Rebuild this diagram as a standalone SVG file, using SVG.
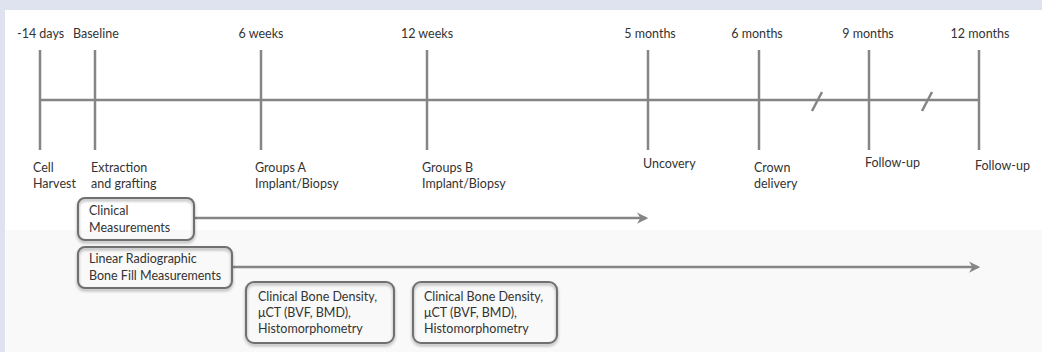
<svg xmlns="http://www.w3.org/2000/svg" width="1042" height="352" viewBox="0 0 1042 352">
<defs>
<style>
text{font-family:"Lato","Liberation Sans",sans-serif;font-size:12.5px;fill:#333}
.ln{stroke:#858585;stroke-width:2.5;fill:none}
.box{stroke:#6f6f6f;stroke-width:2;fill:none;filter:url(#sh)}
</style>
<filter id="sh" x="-10%" y="-20%" width="120%" height="150%">
<feDropShadow dx="0" dy="2" stdDeviation="1.5" flood-color="#000" flood-opacity="0.35"/>
</filter>
<marker id="ah" viewBox="0 0 10 10" refX="8" refY="5" markerWidth="4.5" markerHeight="4.5" orient="auto">
<path d="M0,0 L10,5 L0,10 L3,5 Z" fill="#858585"/>
</marker>
</defs>
<rect x="0" y="0" width="1042" height="352" fill="#dfe3f0"/>
<rect x="5" y="10" width="1037" height="342" fill="#ffffff"/>
<rect x="5" y="230" width="1037" height="122" fill="#f9f9f9"/>

<g id="timeline">
<line class="ln" x1="40" y1="100" x2="980" y2="100"/>
<line class="ln" x1="40" y1="50" x2="40" y2="150"/>
<line class="ln" x1="95" y1="50" x2="95" y2="150"/>
<line class="ln" x1="261" y1="50" x2="261" y2="150"/>
<line class="ln" x1="427" y1="50" x2="427" y2="150"/>
<line class="ln" x1="648" y1="50" x2="648" y2="150"/>
<line class="ln" x1="759" y1="50" x2="759" y2="150"/>
<line class="ln" x1="869" y1="50" x2="869" y2="150"/>
<line class="ln" x1="979" y1="50" x2="979" y2="150"/>
<line class="ln" x1="812" y1="111" x2="822" y2="92"/>
<line class="ln" x1="922" y1="111" x2="932" y2="92"/>
</g>

<g id="top-labels">
<text x="17" y="38">-14 days</text>
<text x="73" y="38">Baseline</text>
<text x="261" y="38" text-anchor="middle">6 weeks</text>
<text x="427" y="38" text-anchor="middle">12 weeks</text>
<text x="650" y="38" text-anchor="middle">5 months</text>
<text x="757" y="38" text-anchor="middle">6 months</text>
<text x="868" y="38" text-anchor="middle">9 months</text>
<text x="980" y="38" text-anchor="middle">12 months</text>
</g>

<g id="bottom-labels">
<text x="33" y="172">Cell</text>
<text x="33" y="188">Harvest</text>
<text x="91" y="172">Extraction</text>
<text x="91" y="188">and grafting</text>
<text x="255" y="172">Groups A</text>
<text x="255" y="188">Implant/Biopsy</text>
<text x="422" y="172">Groups B</text>
<text x="422" y="188">Implant/Biopsy</text>
<text x="643" y="168">Uncovery</text>
<text x="754" y="172">Crown</text>
<text x="754" y="188">delivery</text>
<text x="865" y="167">Follow-up</text>
<text x="975" y="170">Follow-up</text>
</g>

<g id="connectors">
<line class="ln" x1="194" y1="218" x2="646" y2="218" marker-end="url(#ah)"/>
<line class="ln" x1="232" y1="267" x2="978" y2="267" marker-end="url(#ah)"/>
</g>

<g id="clinical-measurements">
<rect class="box" x="78" y="198" width="116" height="42" rx="7"/>
<text x="89" y="215">Clinical</text>
<text x="89" y="232">Measurements</text>
</g>

<g id="linear-radiographic">
<rect class="box" x="78" y="247" width="154" height="41" rx="7"/>
<text x="89" y="263">Linear Radiographic</text>
<text x="89" y="280">Bone Fill Measurements</text>
</g>

<g id="bone-density-a">
<rect class="box" x="246" y="282" width="148" height="61" rx="8"/>
<text x="258" y="301">Clinical Bone Density,</text>
<text x="258" y="317">μCT (BVF, BMD),</text>
<text x="258" y="333">Histomorphometry</text>
</g>

<g id="bone-density-b">
<rect class="box" x="413" y="282" width="144" height="61" rx="8"/>
<text x="424" y="301">Clinical Bone Density,</text>
<text x="424" y="317">μCT (BVF, BMD),</text>
<text x="424" y="333">Histomorphometry</text>
</g>
</svg>
